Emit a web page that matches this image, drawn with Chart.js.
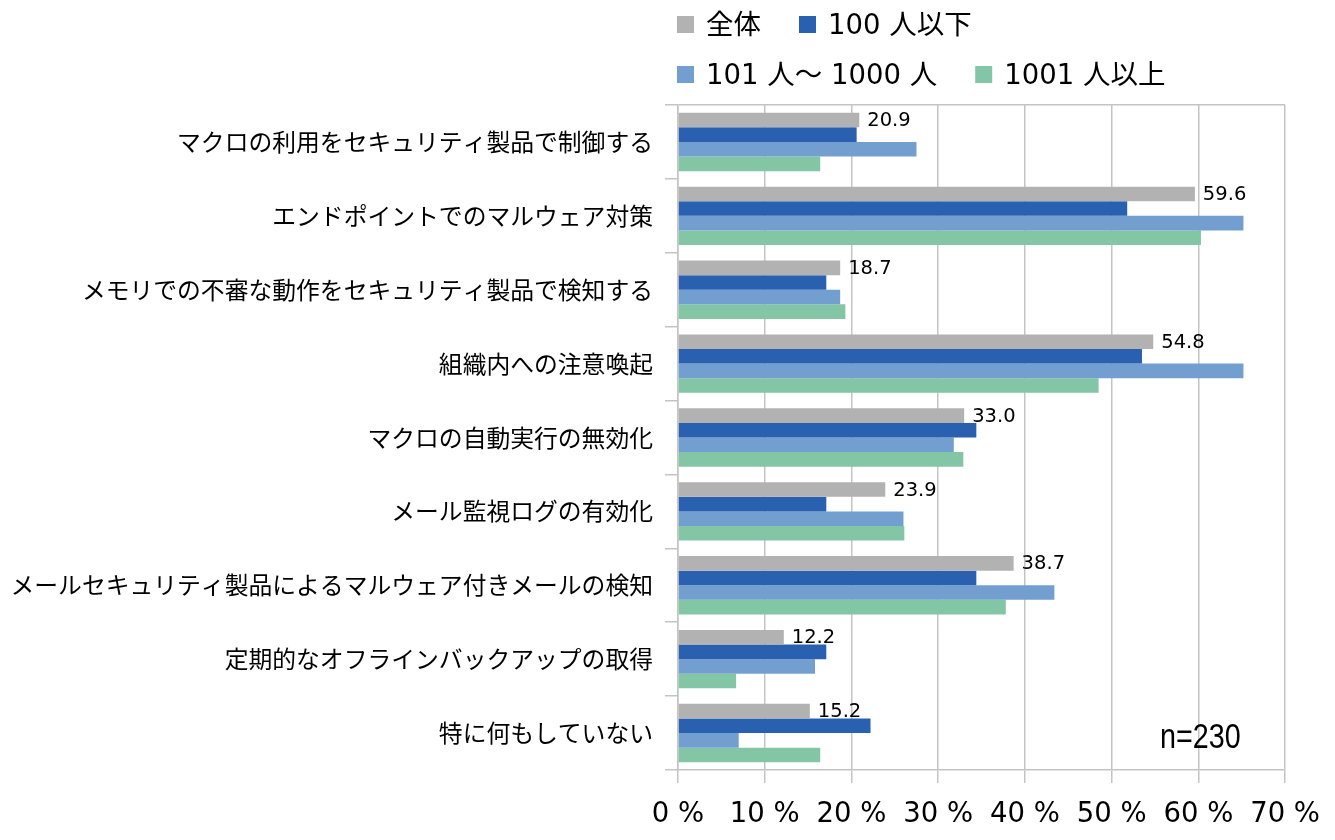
<!DOCTYPE html>
<html lang="ja">
<head>
<meta charset="utf-8">
<title>対策の実施状況</title>
<script src="https://cdn.jsdelivr.net/npm/chart.js@4.4.1/dist/chart.umd.min.js"></script>
<style>
  html, body { margin: 0; padding: 0; background: #fff; }
  canvas { display: block; }
</style>
</head>
<body>
<canvas id="chart" width="1335" height="840"></canvas>
<script>
const categories = [
  'マクロの利用をセキュリティ製品で制御する',
  'エンドポイントでのマルウェア対策',
  'メモリでの不審な動作をセキュリティ製品で検知する',
  '組織内への注意喚起',
  'マクロの自動実行の無効化',
  'メール監視ログの有効化',
  'メールセキュリティ製品によるマルウェア付きメールの検知',
  '定期的なオフラインバックアップの取得',
  '特に何もしていない'
];
const seriesLabels = ['全体', '100 人以下', '101 人～ 1000 人', '1001 人以上'];
const allValues = [20.9, 59.6, 18.7, 54.8, 33.0, 23.9, 38.7, 12.2, 15.2];
const under100Values = [20.6, 51.8, 17.1, 53.5, 34.4, 17.1, 34.4, 17.1, 22.2];
const midValues = [27.5, 65.2, 18.7, 65.2, 31.8, 26.0, 43.4, 15.8, 7.0];
const over1000Values = [16.4, 60.3, 19.3, 48.5, 32.9, 26.1, 37.8, 6.7, 16.4];
const xTicks = [0, 10, 20, 30, 40, 50, 60, 70];

const colors = ['#b2b2b2', '#2a60b0', '#729fcf', '#83c6a6'];
const gridColor = '#c4c4c4';

// Legend drawn in two left-aligned rows above the plot
const legendPlugin = {
  id: 'rowLegend',
  afterDraw(chart) {
    const ctx = chart.ctx;
    const rows = [[0, 1], [2, 3]];
    const rowY = [27, 77];
    ctx.save();
    ctx.font = '27.5px "DejaVu Sans", "Noto Sans CJK JP"';
    ctx.textBaseline = 'middle';
    ctx.textAlign = 'left';
    rows.forEach((row, r) => {
      let x = chart.chartArea.left - 1;
      row.forEach(i => {
        const ds = chart.data.datasets[i];
        ctx.fillStyle = ds.backgroundColor;
        ctx.fillRect(x, rowY[r] - 11, 17, 17);
        ctx.fillStyle = '#000';
        ctx.fillText(ds.label, x + 29, rowY[r]);
        x += 29 + ctx.measureText(ds.label).width + 38;
      });
    });
    ctx.restore();
  }
};

// Value labels on the 全体 bars + sample size note
const labelPlugin = {
  id: 'valueLabels',
  afterDatasetsDraw(chart) {
    const ctx = chart.ctx;
    const meta = chart.getDatasetMeta(0);
    ctx.save();
    ctx.font = '19.5px "DejaVu Sans"';
    ctx.fillStyle = '#000';
    ctx.textBaseline = 'middle';
    ctx.textAlign = 'left';
    meta.data.forEach((bar, i) => {
      ctx.fillText(allValues[i].toFixed(1), bar.x + 8, bar.y + 1);
    });
    // condensed look for the note
    ctx.font = '35px "Liberation Sans"';
    ctx.textBaseline = 'alphabetic';
    ctx.translate(1160, 748);
    ctx.scale(0.82, 1);
    ctx.fillText('n=230', 0, 0);
    ctx.restore();
  }
};

const chart = new Chart(document.getElementById('chart'), {
  type: 'bar',
  data: {
    labels: categories,
    datasets: [
      { label: seriesLabels[0], data: allValues, backgroundColor: colors[0] },
      { label: seriesLabels[1], data: under100Values, backgroundColor: colors[1] },
      { label: seriesLabels[2], data: midValues, backgroundColor: colors[2] },
      { label: seriesLabels[3], data: over1000Values, backgroundColor: colors[3] }
    ].map(d => ({ ...d, categoryPercentage: 0.79, barPercentage: 1.0, borderWidth: 0 }))
  },
  options: {
    indexAxis: 'y',
    responsive: false,
    animation: false,
    devicePixelRatio: 1,
    layout: { padding: { top: 105, right: 48, left: 0, bottom: 0 } },
    plugins: {
      legend: { display: false },
      tooltip: { enabled: false }
    },
    scales: {
      x: {
        min: 0,
        max: 70,
        afterBuildTicks: s => { s.ticks = xTicks.map(v => ({ value: v })); },
        afterFit: s => { s.height = 70; },
        ticks: {
          callback: v => v + ' %',
          color: '#000',
          padding: 15,
          maxRotation: 0,
          font: { family: '"DejaVu Sans"', size: 27.5 }
        },
        grid: { color: gridColor, lineWidth: 1.5, tickLength: 13, drawTicks: true },
        border: { color: gridColor, width: 1.5 }
      },
      y: {
        afterFit: s => { s.width = 678; },
        ticks: {
          color: '#000',
          padding: 12,
          font: { family: '"Noto Sans CJK JP"', size: 23.8 }
        },
        grid: {
          offset: true,
          color: c => c.index === 0 ? gridColor : 'rgba(0,0,0,0)',
          tickColor: gridColor,
          lineWidth: 1.5,
          tickLength: 13
        },
        border: { color: gridColor, width: 1.5 }
      }
    }
  },
  plugins: [legendPlugin, labelPlugin]
});
</script>
</body>
</html>
